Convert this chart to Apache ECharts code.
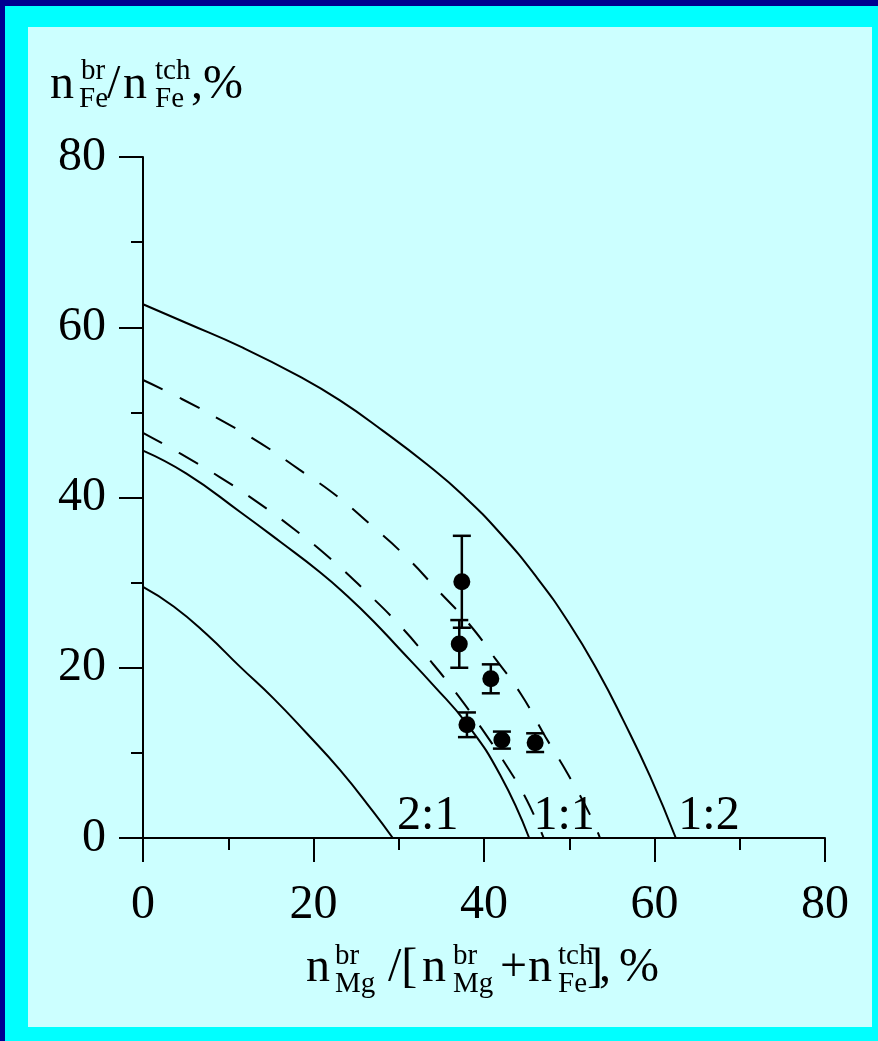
<!DOCTYPE html>
<html>
<head>
<meta charset="utf-8">
<script src="https://cdn.jsdelivr.net/npm/echarts@6/dist/echarts.min.js"></script>
<style>
  html, body { margin: 0; padding: 0; }
  body { width: 878px; height: 1041px; background: #000090; position: relative; overflow: hidden; }
  #frame { position: absolute; left: 5px; top: 6px; width: 873px; height: 1035px; background: #00ffff; }
  #panel { position: absolute; left: 28px; top: 27px; width: 844px; height: 1000px; background: #ccffff; }
  #chart { position: absolute; left: 0; top: 0; width: 878px; height: 1041px; }
</style>
</head>
<body>
<div id="frame"></div>
<div id="panel"></div>
<div id="chart"></div>
<script>
// curves, [x, y] in %
var curve21 = [[0, 29.5], [3.6, 27.2], [7.5, 23.9], [11.4, 20.1], [15.3, 16.4], [19.2, 12.3], [23.1, 8.0], [27.0, 3.1], [29.3, 0]];
var curve11 = [[0, 45.5], [5.1, 42.8], [11.4, 38.3], [16.1, 34.8], [20.8, 31.2], [24.0, 28.4], [27.0, 25.5], [30.1, 22.2], [34.1, 17.9], [38.0, 13.4], [41.9, 7.4], [45.3, 0]];
var dashInner = [[0, 47.6], [4.3, 45.2], [9.0, 42.4], [13.5, 39.4], [17.7, 36.3], [22.0, 32.8], [26.0, 29.1], [30.1, 25.0], [33.3, 21.3], [36.6, 17.2], [39.7, 12.9], [42.7, 8.4], [45.0, 4.5], [47.0, 0]];
var dashOuter = [[0, 53.8], [4.5, 51.6], [9.3, 49.0], [13.9, 46.3], [18.3, 43.3], [22.7, 40.2], [26.7, 36.8], [30.8, 33.1], [34.4, 29.3], [38.2, 25.2], [41.3, 21.1], [44.4, 16.8], [47.2, 11.9], [49.9, 7.4], [52.4, 2.8], [53.6, 0]];
var curve12 = [[0, 62.7], [5.1, 60.5], [11.7, 57.6], [18.4, 54.2], [23.1, 51.4], [28.2, 47.8], [33.3, 43.9], [37.6, 40.2], [41.9, 35.8], [46.2, 30.6], [50.0, 25.2], [53.4, 19.5], [56.3, 13.9], [59.5, 7.2], [62.5, 0]];

// measured points: x, y, error
var pointX = [37.4, 37.1, 40.8, 38.0, 42.1, 46.0];
var pointY = [30.1, 22.8, 18.7, 13.3, 11.5, 11.2];
var pointErr = [5.4, 2.8, 1.7, 1.45, 1.0, 1.1];

var ratioNames = ['2:1', '1:1', '1:2'];
var ratioX = [29.8, 45.8, 62.8];

var xTicks = [0, 80, 20];
var yTicks = [0, 80, 20];

var serif = '"Liberation Serif", "Times New Roman", serif';

var points = pointX.map(function (x, i) { return [x, pointY[i], pointErr[i]]; });
var ratioData = ratioNames.map(function (n, i) { return [ratioX[i], 0, n]; });

function curve(data, dashed) {
    return {
        type: 'line',
        data: data,
        smooth: 0.5,
        showSymbol: false,
        silent: true,
        lineStyle: { color: '#000', width: 2, type: dashed ? [22, 19] : 'solid' },
        z: 2
    };
}

function errorBar(params, api) {
    var x = api.value(0), y = api.value(1), e = api.value(2);
    var top = api.coord([x, y + e]);
    var bot = api.coord([x, y - e]);
    var w = 9;
    var st = { stroke: '#000', lineWidth: 2.5 };
    return {
        type: 'group',
        children: [
            { type: 'line', shape: { x1: top[0], y1: top[1], x2: bot[0], y2: bot[1] }, style: st },
            { type: 'line', shape: { x1: top[0] - w, y1: top[1], x2: top[0] + w, y2: top[1] }, style: st },
            { type: 'line', shape: { x1: bot[0] - w, y1: bot[1], x2: bot[0] + w, y2: bot[1] }, style: st }
        ]
    };
}

// pieces of the axis titles (text, x, baseline, size)
function txt(s, x, base, size) {
    var mid = base - size * 0.3;
    return {
        type: 'text',
        x: x, y: mid,
        style: {
            text: s, font: size + 'px ' + serif, fill: '#000',
            align: 'left', verticalAlign: 'middle',
            textAlign: 'left', textVerticalAlign: 'middle'
        }
    };
}

var titleParts = [
    txt('n', 50, 100, 48), txt('br', 81, 80, 29), txt('Fe', 79, 108, 29),
    txt('/', 107, 100, 48), txt('n', 123, 100, 48),
    txt('tch', 155, 80, 29), txt('Fe', 155, 108, 29),
    txt(',', 191, 100, 48), txt('%', 203, 100, 48),

    txt('n', 306, 983, 48), txt('br', 335, 965, 29), txt('Mg', 335, 993, 29),
    txt('/[', 388, 983, 48), txt('n', 422, 983, 48),
    txt('br', 453, 965, 29), txt('Mg', 453, 993, 29),
    txt('+', 500, 983, 48), txt('n', 528, 983, 48),
    txt('tch', 558, 965, 29), txt('Fe', 558, 993, 29),
    txt(']', 587, 983, 48), txt(',', 599, 983, 48), txt('%', 619, 983, 48)
];

var axisCommon = {
    type: 'value',
    axisLine: { show: true, onZero: false, lineStyle: { color: '#000', width: 2 } },
    axisTick: { show: true, length: 24, lineStyle: { color: '#000', width: 2 } },
    minorTick: { show: true, splitNumber: 2, length: 12, lineStyle: { color: '#000', width: 2 } },
    splitLine: { show: false },
    minorSplitLine: { show: false }
};

var chart = echarts.init(document.getElementById('chart'), null, { renderer: 'canvas' });
var option = {
    backgroundColor: 'transparent',
    animation: false,
    grid: { left: 143, top: 157, width: 682, height: 681, containLabel: false },
    xAxis: Object.assign({}, axisCommon, {
        min: xTicks[0], max: xTicks[1], interval: xTicks[2],
        axisLabel: { color: '#000', fontSize: 48, fontFamily: serif, margin: 43 }
    }),
    yAxis: Object.assign({}, axisCommon, {
        min: yTicks[0], max: yTicks[1], interval: yTicks[2],
        axisLabel: { color: '#000', fontSize: 48, fontFamily: serif, margin: 37 }
    }),
    graphic: titleParts,
    series: [
        curve(curve21, false),
        curve(curve11, false),
        curve(dashInner, true),
        curve(dashOuter, true),
        curve(curve12, false),
        {
            type: 'custom',
            renderItem: errorBar,
            data: points,
            silent: true,
            z: 3
        },
        {
            type: 'scatter',
            data: points,
            symbol: 'circle',
            symbolSize: 17,
            itemStyle: { color: '#000', opacity: 1 },
            silent: true,
            z: 4
        },
        {
            type: 'scatter',
            data: ratioData,
            symbolSize: 0,
            silent: true,
            z: 5,
            itemStyle: { opacity: 1 },
            label: {
                show: true,
                position: [0, 0],
                align: 'left',
                verticalAlign: 'bottom',
                offset: [0, 2],
                fontSize: 48,
                fontFamily: serif,
                color: '#000',
                opacity: 1,
                formatter: function (p) { return p.value[2]; }
            }
        }
    ]
};
chart.setOption(option);
</script>
</body>
</html>
